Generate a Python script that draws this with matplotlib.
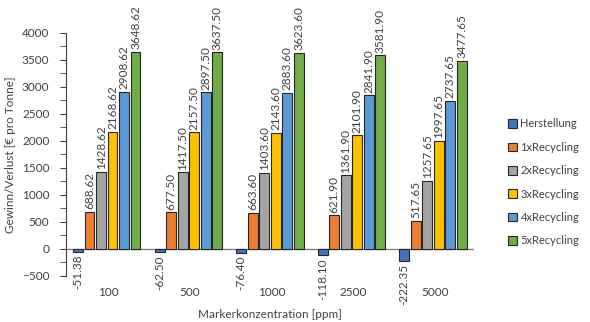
import numpy as np
import matplotlib.pyplot as plt
from matplotlib.ticker import MultipleLocator

plt.rcParams['font.family'] = ['Lato', 'DejaVu Sans']

konz = ['100', '500', '1000', '2500', '5000']
serien = ['Herstellung', '1xRecycling', '2xRecycling', '3xRecycling', '4xRecycling', '5xRecycling']
farben = ['#4472C4', '#ED7D31', '#A5A5A5', '#FFC000', '#5B9BD5', '#70AD47']

herstellung = [-51.38, -62.50, -76.40, -118.10, -222.35]
rec1 = [688.62, 677.50, 663.60, 621.90, 517.65]
rec2 = [1428.62, 1417.50, 1403.60, 1361.90, 1257.65]
rec3 = [2168.62, 2157.50, 2143.60, 2101.90, 1997.65]
rec4 = [2908.62, 2897.50, 2883.60, 2841.90, 2737.65]
rec5 = [3648.62, 3637.50, 3623.60, 3581.90, 3477.65]
werte = [herstellung, rec1, rec2, rec3, rec4, rec5]

fig = plt.figure(figsize=(5.9, 3.22), dpi=100)
ax = fig.add_axes([0.112, 0.143, 0.691, 0.755])

x = np.arange(len(konz))
step = 0.141
w = 0.12
for i, (name, vals, c) in enumerate(zip(serien, werte, farben)):
    pos = x + (i - 2.5) * step
    ax.bar(pos, vals, width=w, color=c, edgecolor='#262626', linewidth=0.8,
           label=name, zorder=3)
    for p, v in zip(pos, vals):
        if v >= 0:
            ax.text(p, v + 50, f'{v:.2f}', rotation=90, ha='center', va='bottom',
                    fontsize=8.5, color='#404040', clip_on=False)
        else:
            ax.text(p, v - 50, f'{v:.2f}', rotation=90, ha='center', va='top',
                    fontsize=8.5, color='#404040', clip_on=False)

ax.axhline(0, color='#808080', linewidth=1, zorder=2)
ax.set_xlim(-0.5, len(konz) - 0.5)
ax.set_ylim(-500, 4000)
ax.yaxis.set_major_locator(MultipleLocator(500))
ax.yaxis.set_minor_locator(MultipleLocator(250))
ax.tick_params(axis='y', which='both', length=4, color='#404040', labelsize=8.5,
               labelcolor='#404040', pad=8)
ax.set_xticks(x + 0.02)
ax.set_xticklabels(konz)
ax.tick_params(axis='x', length=0, labelsize=8.5, labelcolor='#404040', pad=8)

for s in ['top', 'right', 'bottom']:
    ax.spines[s].set_visible(False)
ax.spines['left'].set_color('#404040')

ax.set_ylabel('Gewinn/Verlust [€ pro Tonne]', fontsize=8.5, color='#404040', labelpad=4)
ax.set_xlabel('Markerkonzentration [ppm]', fontsize=8.5, color='#404040', labelpad=8)

leg = ax.legend(loc='center left', bbox_to_anchor=(1.06, 0.385), frameon=False,
                fontsize=8, handlelength=0.8, handleheight=0.8,
                labelspacing=1.12, handletextpad=0.3, labelcolor='#404040')

fig.savefig('out.png', dpi=100)
